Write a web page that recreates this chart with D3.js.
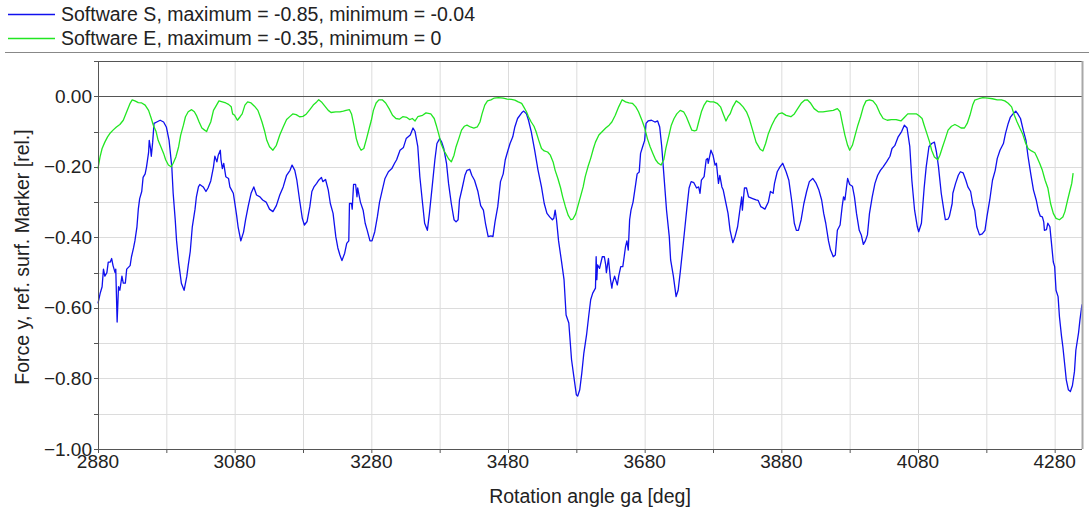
<!DOCTYPE html>
<html>
<head>
<meta charset="utf-8">
<script src="https://cdn.jsdelivr.net/npm/d3@7"></script>
<style>
  body { margin: 0; background: #fff; }
  svg { display: block; font-family: "Liberation Sans", Arial, sans-serif; }
</style>
</head>
<body>
<div id="chart"></div>
<script>
// Software S (blue): [angle deg, force rel.]
const softwareS = [
  [2880,-0.587],[2883,-0.56],[2886,-0.54],[2888,-0.49],[2890,-0.51],[2893,-0.50],[2895,-0.47],[2898,-0.47],
  [2900,-0.46],[2902,-0.48],[2905,-0.50],[2906,-0.49],[2908,-0.64],[2910,-0.54],[2912,-0.55],[2915,-0.51],
  [2917,-0.53],[2920,-0.53],[2922,-0.49],[2927,-0.48],[2929,-0.455],[2932,-0.43],[2934,-0.41],[2937,-0.37],
  [2939,-0.32],[2941,-0.29],[2944,-0.27],[2946,-0.23],[2949,-0.22],[2951,-0.20],[2954,-0.16],[2955,-0.125],
  [2957,-0.15],[2958,-0.17],[2960,-0.13],[2962,-0.077],[2966,-0.073],[2971,-0.068],[2976,-0.073],[2980,-0.087],
  [2984,-0.125],[2988,-0.20],[2990,-0.275],[2993,-0.35],[2995,-0.41],[2998,-0.47],[3000,-0.50],[3002,-0.53],
  [3006,-0.55],[3010,-0.51],[3012,-0.48],[3015,-0.44],[3018,-0.37],[3022,-0.32],[3024,-0.285],[3027,-0.257],
  [3029,-0.25],[3034,-0.257],[3038,-0.27],[3041,-0.26],[3045,-0.24],[3049,-0.20],[3051,-0.17],[3054,-0.186],
  [3056,-0.167],[3059,-0.153],[3060,-0.18],[3062,-0.205],[3064,-0.19],[3067,-0.228],[3071,-0.233],[3073,-0.257],
  [3078,-0.275],[3080,-0.30],[3083,-0.34],[3085,-0.37],[3089,-0.41],[3093,-0.385],[3096,-0.35],[3100,-0.31],
  [3104,-0.275],[3108,-0.257],[3112,-0.28],[3117,-0.285],[3121,-0.294],[3126,-0.30],[3131,-0.32],[3136,-0.327],
  [3141,-0.31],[3146,-0.28],[3151,-0.257],[3156,-0.224],[3161,-0.21],[3164,-0.195],[3168,-0.21],[3171,-0.238],
  [3175,-0.294],[3179,-0.346],[3182,-0.365],[3186,-0.355],[3190,-0.313],[3193,-0.27],[3196,-0.257],[3200,-0.247],
  [3203,-0.238],[3207,-0.23],[3209,-0.242],[3213,-0.236],[3217,-0.266],[3220,-0.304],[3224,-0.332],[3228,-0.398],
  [3231,-0.43],[3234,-0.45],[3237,-0.466],[3241,-0.445],[3244,-0.417],[3247,-0.41],[3248,-0.304],[3251,-0.304],
  [3252,-0.32],[3254,-0.25],[3257,-0.25],[3259,-0.285],[3260,-0.26],[3264,-0.30],[3268,-0.323],[3271,-0.36],
  [3274,-0.38],[3278,-0.41],[3281,-0.41],[3285,-0.384],[3289,-0.34],[3292,-0.30],[3296,-0.266],[3300,-0.233],
  [3305,-0.214],[3310,-0.205],[3314,-0.19],[3317,-0.18],[3322,-0.153],[3327,-0.145],[3331,-0.12],[3337,-0.11],
  [3341,-0.09],[3344,-0.10],[3348,-0.143],[3351,-0.228],[3355,-0.304],[3358,-0.36],[3362,-0.38],[3365,-0.332],
  [3369,-0.257],[3373,-0.18],[3376,-0.134],[3380,-0.12],[3383,-0.13],[3386,-0.148],[3390,-0.19],[3393,-0.247],
  [3397,-0.304],[3401,-0.35],[3404,-0.356],[3407,-0.35],[3409,-0.294],[3413,-0.26],[3417,-0.224],[3420,-0.21],
  [3424,-0.207],[3427,-0.224],[3431,-0.238],[3436,-0.27],[3440,-0.31],[3444,-0.323],[3447,-0.36],[3451,-0.398],
  [3455,-0.396],[3458,-0.398],[3461,-0.356],[3465,-0.313],[3469,-0.242],[3473,-0.22],[3476,-0.18],[3480,-0.153],
  [3483,-0.134],[3487,-0.115],[3490,-0.087],[3494,-0.063],[3500,-0.047],[3503,-0.042],[3507,-0.05],[3510,-0.068],
  [3514,-0.10],[3519,-0.153],[3524,-0.21],[3529,-0.257],[3533,-0.304],[3537,-0.332],[3541,-0.342],[3545,-0.35],
  [3547,-0.346],[3549,-0.323],[3551,-0.35],[3554,-0.41],[3558,-0.464],[3562,-0.52],[3565,-0.62],[3569,-0.643],
  [3573,-0.747],[3577,-0.804],[3580,-0.846],[3582,-0.85],[3585,-0.832],[3588,-0.785],[3591,-0.728],[3595,-0.676],
  [3598,-0.625],[3601,-0.577],[3604,-0.558],[3608,-0.544],[3609,-0.455],[3610,-0.52],[3611,-0.478],[3614,-0.488],
  [3618,-0.455],[3621,-0.455],[3623,-0.478],[3624,-0.50],[3627,-0.46],[3630,-0.52],[3632,-0.544],[3633,-0.53],
  [3636,-0.51],[3640,-0.535],[3642,-0.51],[3645,-0.483],[3648,-0.483],[3650,-0.455],[3652,-0.426],[3654,-0.41],
  [3656,-0.436],[3658,-0.35],[3660,-0.323],[3663,-0.30],[3667,-0.247],[3669,-0.22],[3672,-0.215],[3674,-0.162],
  [3677,-0.143],[3680,-0.125],[3682,-0.077],[3685,-0.07],[3690,-0.068],[3695,-0.073],[3699,-0.07],[3702,-0.087],
  [3705,-0.143],[3708,-0.22],[3712,-0.323],[3716,-0.398],[3718,-0.464],[3722,-0.51],[3726,-0.568],[3729,-0.55],
  [3732,-0.50],[3735,-0.445],[3739,-0.37],[3742,-0.313],[3745,-0.26],[3748,-0.242],[3752,-0.245],[3756,-0.26],
  [3759,-0.257],[3761,-0.275],[3763,-0.238],[3767,-0.228],[3770,-0.18],[3772,-0.176],[3773,-0.19],[3777,-0.153],
  [3780,-0.167],[3783,-0.195],[3785,-0.19],[3788,-0.247],[3790,-0.224],[3793,-0.257],[3795,-0.266],[3799,-0.304],
  [3802,-0.332],[3805,-0.38],[3809,-0.415],[3812,-0.40],[3816,-0.37],[3820,-0.313],[3822,-0.285],[3823,-0.323],
  [3826,-0.26],[3829,-0.26],[3832,-0.285],[3838,-0.29],[3843,-0.294],[3846,-0.295],[3850,-0.313],[3856,-0.32],
  [3861,-0.30],[3864,-0.27],[3868,-0.275],[3870,-0.247],[3874,-0.214],[3878,-0.20],[3882,-0.19],[3887,-0.214],
  [3891,-0.238],[3895,-0.294],[3899,-0.36],[3902,-0.38],[3905,-0.38],[3909,-0.35],[3913,-0.304],[3917,-0.27],
  [3921,-0.242],[3926,-0.233],[3931,-0.247],[3935,-0.266],[3939,-0.294],[3942,-0.332],[3945,-0.36],[3949,-0.41],
  [3952,-0.436],[3953,-0.44],[3956,-0.455],[3959,-0.45],[3962,-0.38],[3966,-0.365],[3969,-0.313],[3971,-0.285],
  [3973,-0.294],[3977,-0.233],[3980,-0.25],[3984,-0.255],[3987,-0.285],[3990,-0.332],[3994,-0.38],[3997,-0.393],
  [4000,-0.42],[4003,-0.41],[4006,-0.393],[4009,-0.332],[4013,-0.285],[4017,-0.247],[4021,-0.224],[4025,-0.21],
  [4029,-0.20],[4034,-0.186],[4039,-0.17],[4042,-0.148],[4046,-0.14],[4051,-0.115],[4056,-0.10],[4060,-0.082],
  [4064,-0.09],[4068,-0.143],[4071,-0.238],[4075,-0.323],[4079,-0.37],[4081,-0.384],[4085,-0.36],[4089,-0.26],
  [4092,-0.20],[4096,-0.143],[4100,-0.134],[4104,-0.13],[4107,-0.158],[4110,-0.20],[4114,-0.275],[4117,-0.313],
  [4120,-0.35],[4124,-0.348],[4126,-0.34],[4130,-0.304],[4131,-0.275],[4135,-0.247],[4139,-0.224],[4142,-0.214],
  [4146,-0.217],[4150,-0.238],[4153,-0.257],[4157,-0.27],[4160,-0.304],[4163,-0.323],[4166,-0.37],[4170,-0.393],
  [4174,-0.39],[4178,-0.38],[4181,-0.34],[4185,-0.294],[4189,-0.238],[4193,-0.21],[4196,-0.176],[4200,-0.153],
  [4205,-0.134],[4208,-0.106],[4212,-0.077],[4215,-0.06],[4219,-0.05],[4223,-0.042],[4226,-0.05],[4230,-0.063],
  [4234,-0.096],[4238,-0.125],[4241,-0.17],[4245,-0.22],[4249,-0.266],[4253,-0.294],[4256,-0.323],[4259,-0.34],
  [4262,-0.342],[4264,-0.356],[4265,-0.38],[4268,-0.378],[4270,-0.36],[4273,-0.37],[4275,-0.41],[4278,-0.47],
  [4280,-0.483],[4282,-0.55],[4285,-0.568],[4287,-0.625],[4290,-0.68],[4292,-0.71],[4295,-0.766],[4297,-0.804],
  [4300,-0.832],[4303,-0.837],[4306,-0.82],[4309,-0.78],[4311,-0.72],[4315,-0.67],[4317,-0.634],[4320,-0.59]
];

// Software E (green)
const softwareE = [
  [2880,-0.205],[2883,-0.172],[2886,-0.148],[2890,-0.13],[2894,-0.115],[2898,-0.104],[2902,-0.096],[2907,-0.087],
  [2912,-0.08],[2917,-0.068],[2922,-0.044],[2927,-0.02],[2930,-0.01],[2934,-0.013],[2939,-0.018],[2944,-0.019],
  [2949,-0.025],[2954,-0.04],[2958,-0.063],[2961,-0.082],[2965,-0.10],[2968,-0.125],[2972,-0.143],[2976,-0.162],
  [2979,-0.18],[2983,-0.195],[2987,-0.20],[2990,-0.19],[2994,-0.172],[2998,-0.143],[3001,-0.11],[3005,-0.082],
  [3008,-0.058],[3012,-0.044],[3017,-0.038],[3021,-0.044],[3024,-0.054],[3028,-0.073],[3032,-0.09],[3036,-0.096],
  [3039,-0.10],[3041,-0.09],[3045,-0.073],[3049,-0.04],[3052,-0.03],[3057,-0.013],[3062,-0.016],[3067,-0.019],
  [3071,-0.023],[3075,-0.03],[3077,-0.05],[3080,-0.054],[3084,-0.068],[3088,-0.058],[3091,-0.05],[3095,-0.025],
  [3099,-0.016],[3104,-0.019],[3109,-0.028],[3114,-0.04],[3117,-0.056],[3120,-0.073],[3124,-0.10],[3127,-0.125],
  [3131,-0.143],[3136,-0.153],[3141,-0.139],[3146,-0.11],[3151,-0.087],[3156,-0.066],[3161,-0.057],[3165,-0.05],
  [3170,-0.052],[3175,-0.058],[3180,-0.057],[3185,-0.05],[3190,-0.038],[3195,-0.025],[3200,-0.016],[3203,-0.01],
  [3207,-0.016],[3212,-0.028],[3217,-0.04],[3221,-0.046],[3228,-0.044],[3234,-0.044],[3239,-0.042],[3243,-0.04],
  [3248,-0.038],[3251,-0.05],[3255,-0.087],[3258,-0.12],[3261,-0.139],[3265,-0.153],[3269,-0.148],[3273,-0.12],
  [3277,-0.09],[3280,-0.068],[3283,-0.04],[3287,-0.019],[3291,-0.01],[3296,-0.01],[3301,-0.019],[3306,-0.035],
  [3311,-0.054],[3316,-0.063],[3321,-0.065],[3326,-0.058],[3332,-0.06],[3336,-0.066],[3340,-0.063],[3344,-0.07],
  [3348,-0.058],[3355,-0.054],[3360,-0.047],[3367,-0.05],[3372,-0.063],[3375,-0.082],[3379,-0.11],[3382,-0.134],
  [3386,-0.153],[3390,-0.167],[3393,-0.177],[3397,-0.186],[3401,-0.167],[3404,-0.143],[3408,-0.12],[3412,-0.096],
  [3416,-0.085],[3420,-0.082],[3425,-0.087],[3430,-0.09],[3435,-0.087],[3439,-0.073],[3442,-0.05],[3446,-0.025],
  [3450,-0.013],[3455,-0.01],[3460,-0.005],[3466,-0.004],[3473,-0.005],[3479,-0.008],[3485,-0.009],[3490,-0.011],
  [3495,-0.016],[3500,-0.02],[3503,-0.03],[3507,-0.044],[3510,-0.058],[3514,-0.073],[3518,-0.085],[3521,-0.10],
  [3525,-0.125],[3529,-0.148],[3533,-0.155],[3538,-0.158],[3542,-0.167],[3546,-0.186],[3549,-0.21],[3553,-0.233],
  [3557,-0.26],[3560,-0.285],[3564,-0.313],[3568,-0.337],[3572,-0.35],[3575,-0.348],[3579,-0.334],[3582,-0.313],
  [3586,-0.285],[3590,-0.257],[3593,-0.228],[3597,-0.20],[3601,-0.176],[3605,-0.148],[3608,-0.13],[3613,-0.11],
  [3618,-0.10],[3623,-0.09],[3628,-0.082],[3632,-0.073],[3637,-0.054],[3642,-0.03],[3647,-0.01],[3652,-0.016],
  [3657,-0.019],[3662,-0.02],[3667,-0.03],[3671,-0.044],[3676,-0.068],[3680,-0.09],[3684,-0.12],[3688,-0.143],
  [3692,-0.162],[3696,-0.18],[3700,-0.19],[3704,-0.195],[3708,-0.18],[3711,-0.148],[3715,-0.115],[3719,-0.082],
  [3723,-0.063],[3727,-0.05],[3732,-0.04],[3737,-0.044],[3741,-0.058],[3745,-0.077],[3749,-0.096],[3753,-0.098],
  [3756,-0.096],[3759,-0.073],[3763,-0.044],[3767,-0.025],[3771,-0.013],[3776,-0.016],[3781,-0.016],[3786,-0.02],
  [3791,-0.03],[3795,-0.05],[3799,-0.07],[3802,-0.058],[3805,-0.05],[3809,-0.03],[3814,-0.013],[3819,-0.02],
  [3824,-0.03],[3829,-0.044],[3833,-0.063],[3838,-0.096],[3843,-0.13],[3849,-0.15],[3853,-0.155],[3857,-0.134],
  [3861,-0.106],[3866,-0.082],[3871,-0.063],[3876,-0.05],[3881,-0.047],[3887,-0.054],[3894,-0.058],[3899,-0.05],
  [3903,-0.038],[3909,-0.02],[3914,-0.011],[3918,-0.01],[3923,-0.02],[3928,-0.035],[3934,-0.044],[3941,-0.044],
  [3948,-0.042],[3956,-0.04],[3962,-0.035],[3966,-0.044],[3969,-0.073],[3973,-0.11],[3977,-0.139],[3980,-0.153],
  [3984,-0.139],[3988,-0.11],[3992,-0.082],[3996,-0.058],[4000,-0.03],[4004,-0.013],[4009,-0.01],[4014,-0.013],
  [4019,-0.025],[4024,-0.047],[4029,-0.063],[4035,-0.068],[4041,-0.066],[4048,-0.066],[4055,-0.07],[4060,-0.06],
  [4065,-0.05],[4071,-0.05],[4078,-0.05],[4082,-0.056],[4086,-0.063],[4089,-0.082],[4093,-0.106],[4097,-0.13],
  [4100,-0.153],[4104,-0.172],[4109,-0.18],[4112,-0.167],[4116,-0.143],[4120,-0.12],[4124,-0.096],[4129,-0.085],
  [4134,-0.08],[4139,-0.085],[4143,-0.09],[4148,-0.09],[4152,-0.077],[4156,-0.054],[4160,-0.025],[4163,-0.011],
  [4169,-0.007],[4175,-0.004],[4182,-0.005],[4189,-0.007],[4196,-0.01],[4202,-0.01],[4207,-0.013],[4212,-0.02],
  [4217,-0.03],[4221,-0.054],[4225,-0.073],[4229,-0.09],[4233,-0.106],[4237,-0.13],[4241,-0.148],[4246,-0.155],
  [4251,-0.16],[4254,-0.172],[4258,-0.19],[4262,-0.21],[4266,-0.238],[4270,-0.26],[4274,-0.304],[4278,-0.332],
  [4282,-0.346],[4287,-0.35],[4292,-0.342],[4295,-0.327],[4299,-0.294],[4302,-0.27],[4305,-0.247],[4307,-0.218]
];

const legendLabels = [
  "Software S, maximum = -0.85, minimum = -0.04",
  "Software E, maximum = -0.35, minimum = 0"
];
const seriesColors = ["#1010ee", "#22e622"];
const xDomain = [2880, 4320];
const yDomain = [-1.0, 0.1];
const xTickLabels = [2880, 3080, 3280, 3480, 3680, 3880, 4080, 4280];
const yTickLabels = [0, -0.2, -0.4, -0.6, -0.8, -1.0];

const W = 1089, H = 512;
const m = { left: 98, right: 7, top: 61, bottom: 63 };

const svg = d3.select("#chart").append("svg")
    .attr("width", W)
    .attr("height", H);

const x = d3.scaleLinear().domain(xDomain).range([m.left, W - m.right]);
const y = d3.scaleLinear().domain(yDomain).range([H - m.bottom, m.top]);

const xMinor = d3.range(2880, 4320 + 1, 100);
const yMinor = d3.range(-10, 2).map(d => d / 10);

// Gridlines
svg.append("g")
  .selectAll("line")
  .data(xMinor.slice(1))
  .join("line")
    .attr("x1", d => x(d) + 0.5).attr("x2", d => x(d) + 0.5)
    .attr("y1", m.top).attr("y2", H - m.bottom)
    .attr("stroke", "#dcdcdc");

svg.append("g")
  .selectAll("line")
  .data(yMinor.filter(d => d > -1 && d < 0.1))
  .join("line")
    .attr("x1", m.left).attr("x2", W - m.right)
    .attr("y1", d => Math.round(y(d)) + 0.5).attr("y2", d => Math.round(y(d)) + 0.5)
    .attr("stroke", d => Math.abs(d) < 1e-9 ? "#555" : "#dcdcdc")
    .attr("stroke-width", d => Math.abs(d) < 1e-9 ? 1.2 : 1);

// Tick marks (outside)
svg.append("g")
  .selectAll("line")
  .data(xMinor)
  .join("line")
    .attr("x1", d => x(d) + 0.5).attr("x2", d => x(d) + 0.5)
    .attr("y1", H - m.bottom).attr("y2", H - m.bottom + 4)
    .attr("stroke", "#555");

svg.append("g")
  .selectAll("line")
  .data(yMinor)
  .join("line")
    .attr("x1", m.left - 4).attr("x2", m.left)
    .attr("y1", d => Math.round(y(d)) + 0.5).attr("y2", d => Math.round(y(d)) + 0.5)
    .attr("stroke", "#555");

// Series
const line = d3.line().x(d => x(d[0])).y(d => y(d[1]));
const plot = svg.append("g");
[softwareS, softwareE].forEach((s, i) => {
  plot.append("path")
    .datum(s)
    .attr("d", line)
    .attr("fill", "none")
    .attr("stroke", seriesColors[i])
    .attr("stroke-width", 1.3)
    .attr("stroke-linejoin", "round");
});

// Frame
svg.append("line")
  .attr("x1", m.left).attr("x2", W - m.right)
  .attr("y1", m.top + 0.5).attr("y2", m.top + 0.5)
  .attr("stroke", "#555");
svg.append("line")
  .attr("x1", W - m.right + 0.5).attr("x2", W - m.right + 0.5)
  .attr("y1", m.top).attr("y2", H - m.bottom)
  .attr("stroke", "#a8a8a8").attr("stroke-width", 2);
svg.append("line")
  .attr("x1", m.left + 0.5).attr("x2", m.left + 0.5)
  .attr("y1", m.top).attr("y2", H - m.bottom)
  .attr("stroke", "#555");
svg.append("line")
  .attr("x1", m.left).attr("x2", W - m.right)
  .attr("y1", H - m.bottom + 0.5).attr("y2", H - m.bottom + 0.5)
  .attr("stroke", "#555");

// Tick labels
svg.append("g")
  .selectAll("text")
  .data(xTickLabels)
  .join("text")
    .attr("x", d => x(d))
    .attr("y", H - m.bottom + 19)
    .attr("text-anchor", "middle")
    .attr("font-size", "19px")
    .attr("fill", "#222")
    .text(d => d);

svg.append("g")
  .selectAll("text")
  .data(yTickLabels)
  .join("text")
    .attr("x", m.left - 6)
    .attr("y", d => y(d) + 6.5)
    .attr("text-anchor", "end")
    .attr("font-size", "19px")
    .attr("fill", "#222")
    .text(d => d3.format(".2f")(d));

// Axis titles
svg.append("text")
  .attr("x", (m.left + W - m.right) / 2)
  .attr("y", 503)
  .attr("text-anchor", "middle")
  .attr("font-size", "19.5px")
  .attr("fill", "#222")
  .text("Rotation angle ga [deg]");

svg.append("text")
  .attr("transform", `translate(29,${(m.top + H - m.bottom) / 2 + 2}) rotate(-90)`)
  .attr("text-anchor", "middle")
  .attr("font-size", "19.5px")
  .attr("fill", "#222")
  .text("Force y, ref. surf. Marker [rel.]");

// Legend
const legend = svg.append("g");
legendLabels.forEach((lab, i) => {
  const ly = 14 + i * 24;
  legend.append("line")
    .attr("x1", 8).attr("x2", 55)
    .attr("y1", ly + 0.5).attr("y2", ly + 0.5)
    .attr("stroke", seriesColors[i])
    .attr("stroke-width", 1.3);
  legend.append("text")
    .attr("x", 61)
    .attr("y", ly + 7)
    .attr("font-size", "19.5px")
    .attr("fill", "#222")
    .text(lab);
});
svg.append("line")
  .attr("x1", 5).attr("x2", W)
  .attr("y1", 52.5).attr("y2", 52.5)
  .attr("stroke", "#888");
</script>
</body>
</html>
